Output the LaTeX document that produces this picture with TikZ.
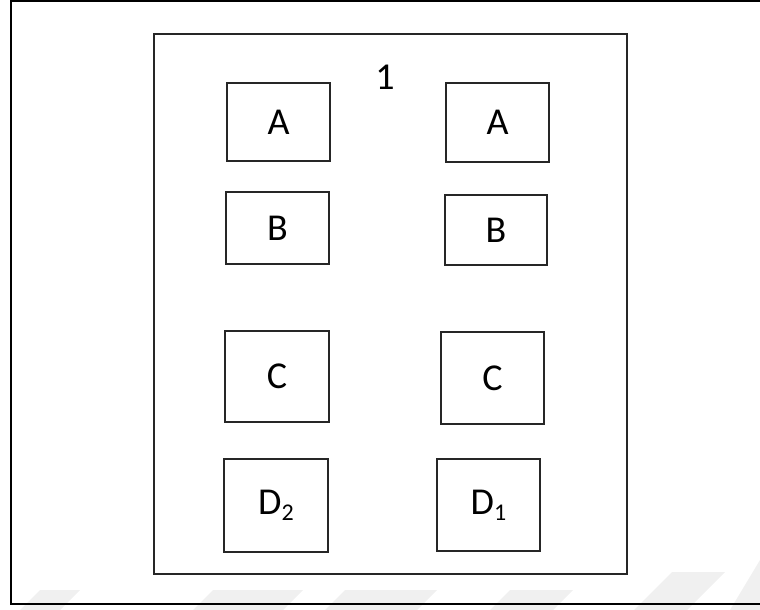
\documentclass[tikz,border=0pt]{standalone}
\usepackage{fontspec}
\setmainfont{Carlito}
\begin{document}
\begin{tikzpicture}[x=1pt,y=-1pt,
  box/.style={draw=black!85,line width=1.4pt,inner sep=0pt,font=\fontsize{38}{40}\selectfont},
  wm/.style={fill=black!6,draw=none}]
\useasboundingbox (0,0) rectangle (760,610);
% faint watermark stripes
\fill[wm] (40,590) -- (80,590) -- (60,610) -- (20,610) -- cycle;
\fill[wm] (213,590) -- (303,590) -- (283,610) -- (193,610) -- cycle;
\fill[wm] (345,590) -- (437,590) -- (417,610) -- (325,610) -- cycle;
\fill[wm] (510,590) -- (573,590) -- (553,610) -- (490,610) -- cycle;
\fill[wm] (672,572) -- (725,572) -- (687,610) -- (634,610) -- cycle;
\fill[wm] (760,560) -- (760,610) -- (730,610) -- cycle;
% outer frame (right side runs off the picture)
\draw[line width=2.2pt] (772,1) -- (11,1) -- (11,604) -- (772,604);
% inner rectangle
\draw[black!85,line width=1.5pt] (154,34) rectangle (627,574);
\node[font=\fontsize{38}{40}\selectfont] (one) at (385,77) {1};
\node[box,minimum width=103pt,minimum height=78pt] (AL) at (278.5,122) {A};
\node[box,minimum width=103pt,minimum height=79pt] (AR) at (497.5,122.5) {A};
\node[box,minimum width=103pt,minimum height=72pt] (BL) at (277.5,228) {B};
\node[box,minimum width=102pt,minimum height=70pt] (BR) at (496,230) {B};
\node[box,minimum width=104pt,minimum height=91pt] (CL) at (277,376.5) {C};
\node[box,minimum width=103pt,minimum height=92pt] (CR) at (492.5,378) {C};
\node[box,minimum width=104pt,minimum height=93pt] (D2) at (276,505.5) {D\raisebox{-6pt}{\fontsize{24}{24}\selectfont 2}};
\node[box,minimum width=103pt,minimum height=92pt] (D1) at (488.5,505) {D\raisebox{-6pt}{\fontsize{24}{24}\selectfont 1}};
\end{tikzpicture}
\end{document}
